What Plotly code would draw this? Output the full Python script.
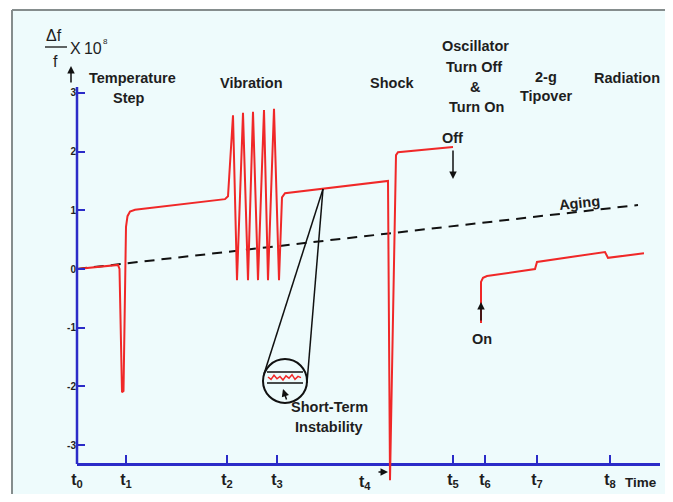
import plotly.graph_objects as go

# Frequency deviation (x 1e-8) vs time; time in arbitrary units from t0
before_off_t = [0, 41, 42.5, 45, 46.5, 49, 50.5, 53, 58, 148, 151, 156, 160, 166, 171, 176, 181,
                187, 191, 197, 202, 205, 208, 311, 313, 319, 321, 376]
before_off_v = [0.00, 0.07, 0.00, -2.10, -2.08, 0.72, 0.90, 0.98, 1.01, 1.19, 1.24, 2.62, -0.19,
                2.66, -0.19, 2.68, -0.19, 2.71, -0.19, 2.73, -0.19, 1.22, 1.29, 1.50, -3.60,
                1.94, 1.99, 2.08]

after_on_t = [404, 404, 406, 410, 458, 460, 528, 531, 567]
after_on_v = [-0.92, -0.22, -0.15, -0.12, 0.00, 0.12, 0.29, 0.19, 0.27]

aging_t = [0, 561]
aging_v = [0.00, 1.09]

# magnified short-term noise inside the loupe
zoom_t = [191, 194, 197, 200, 203, 206, 209, 212, 215, 218, 221, 224]
zoom_v = [-1.84, -1.88, -1.81, -1.87, -1.83, -1.89, -1.82, -1.86, -1.80, -1.88, -1.83, -1.85]

time_ticks = [0, 49, 150, 200, 376, 408, 460, 533]
time_labels = ['0', '1', '2', '3', '5', '6', '7', '8']

y_ticks = [-3, -2, -1, 0, 1, 2, 3]
y_labels = ['-3', '-2', '-1', '0', '1', '2', '3']

# page body has an 8px margin, so the figure is a bit smaller than the window
PAGE = 8
W, H = 673 - PAGE, 502 - 2 * PAGE
L, T = 77 - PAGE, 30 - PAGE
R, B = W - (660 - PAGE), H - (490 - PAGE)
RED = '#f02828'
BLUE = '#2b2bc8'
INK = '#1e1e1e'
FONT = 'Arial, Liberation Sans, sans-serif'


# helpers take window pixel positions
def px_x(px):
    return (px - PAGE - L) / (W - L - R)


def px_y(py):
    return (H - B - (py - PAGE)) / (H - T - B)


fig = go.Figure()

fig.add_trace(go.Scatter(x=aging_t, y=aging_v, mode='lines',
                         line=dict(color='#111111', width=2, dash='10px,7px')))
fig.add_trace(go.Scatter(x=before_off_t, y=before_off_v, mode='lines',
                         line=dict(color=RED, width=2)))
fig.add_trace(go.Scatter(x=after_on_t, y=after_on_v, mode='lines',
                         line=dict(color=RED, width=2)))
fig.add_trace(go.Scatter(x=zoom_t, y=zoom_v, mode='lines',
                         line=dict(color=RED, width=1.5)))


def label(text, px, py, size=14.5, bold=True, angle=0):
    fig.add_annotation(x=px_x(px), y=px_y(py), xref='paper', yref='paper', text=text,
                       showarrow=False, xanchor='center', yanchor='middle', textangle=angle,
                       font=dict(family=FONT, size=size, color=INK,
                                 weight='bold' if bold else 'normal'))


def arrow(tip, tail):
    fig.add_annotation(x=px_x(tip[0]), y=px_y(tip[1]), xref='paper', yref='paper', text='',
                       showarrow=True, ax=tail[0] - tip[0], ay=tail[1] - tip[1],
                       arrowhead=2, arrowsize=1, arrowwidth=1.5, arrowcolor='#111111')


def seg(p0, p1, width=1.5, color='#111111', layer='above'):
    fig.add_shape(type='line', xref='paper', yref='paper', layer=layer,
                  x0=px_x(p0[0]), y0=px_y(p0[1]), x1=px_x(p1[0]), y1=px_y(p1[1]),
                  line=dict(color=color, width=width))


# frame: filled panel inside the figure, border only on left and top
fig.add_shape(type='rect', xref='paper', yref='paper', layer='below',
              x0=px_x(12), y0=px_y(H + PAGE), x1=px_x(W + PAGE), y1=px_y(10),
              line=dict(width=0), fillcolor='#eefbfc')
seg((12, 10), (12, H + PAGE), width=2, color='#858d8d', layer='below')
seg((12, 10), (W + PAGE, 10), width=2, color='#858d8d', layer='below')

# vertical axis line (ends at the time axis)
seg((77, 464), (77, 87), width=2.5, color=BLUE)

# loupe
fig.add_shape(type='circle', xref='paper', yref='paper',
              x0=px_x(263), y0=px_y(403), x1=px_x(307), y1=px_y(359),
              line=dict(color='#111111', width=2))
seg((323, 189), (264, 374))
seg((323, 189), (307, 383))
seg((267, 372), (303, 372), width=1.3)
seg((267, 383), (303, 383), width=1.3)

# y label
label('Δf', 54, 35, size=16, bold=False)
seg((45, 47), (67, 47), width=1.3)
label('f', 55, 61, size=16, bold=False)
label('X\u200910', 86, 49, size=16, bold=False)
label('8', 105, 42, size=8, bold=False)
arrow((71, 66), (71, 84))

# event labels
label('Temperature', 132, 78)
label('Step', 129, 98)
label('Vibration', 251, 83)
label('Shock', 392, 83)
label('Oscillator', 475, 46)
label('Turn Off', 474, 67)
label('&', 475, 87)
label('Turn On', 476, 107)
label('2-g', 546, 77)
label('Tipover', 546, 96)
label('Radiation', 627, 78)
label('Off', 452, 138)
arrow((453, 179), (453, 149))
label('On', 482, 339)
arrow((481, 302), (481, 322))
label('Aging', 579, 203, angle=-6)
label('Short-Term', 329, 407)
label('Instability', 329, 427)
arrow((283, 389), (287, 401))
label('t<sub>4</sub>', 365, 482, size=16)
arrow((388, 472), (377, 472))
label('Time', 641, 482, size=13.5)

fig.update_layout(
    width=W, height=H,
    margin=dict(l=L, r=R, t=T, b=B),
    paper_bgcolor='white',
    plot_bgcolor='rgba(0,0,0,0)',
    showlegend=False,
    xaxis=dict(
        range=[0, 583], anchor='free', position=px_y(464),
        showline=True, linecolor=BLUE, linewidth=2.5, layer='below traces',
        ticks='inside', ticklen=8, tickwidth=2, tickcolor=BLUE,
        tickvals=time_ticks, ticktext=['t<sub>' + s + '</sub>' for s in time_labels],
        tickfont=dict(family=FONT, size=16, color=INK, weight='bold'),
        showgrid=False, zeroline=False, fixedrange=True,
    ),
    yaxis=dict(
        range=[(269 - 490) / 58.7, (269 - 30) / 58.7],
        showline=False, ticks='inside', ticklen=8, tickwidth=2, tickcolor=BLUE,
        tickvals=y_ticks, ticktext=y_labels,
        tickfont=dict(family=FONT, size=10, color=INK, weight='bold'),
        showgrid=False, zeroline=False, fixedrange=True,
    ),
)

fig.write_html('out.html', config={'displayModeBar': False})
